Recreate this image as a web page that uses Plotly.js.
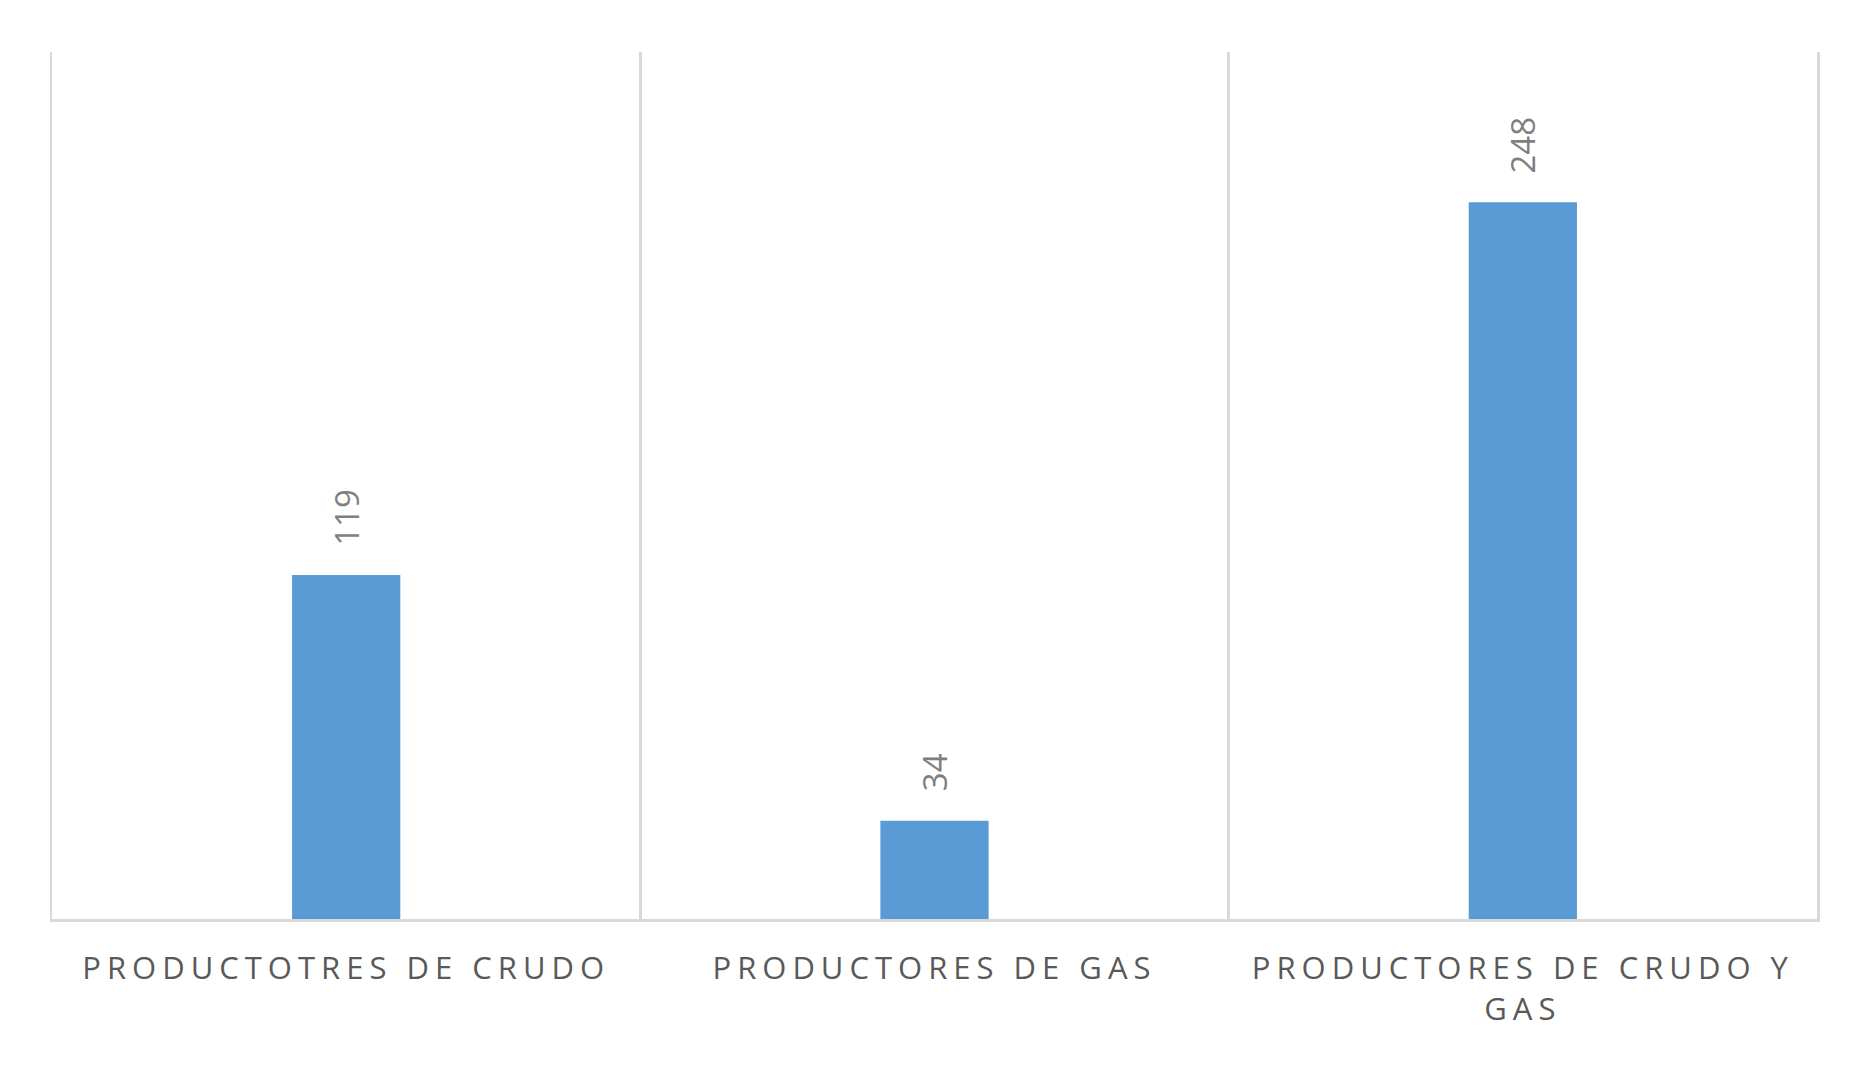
<!DOCTYPE html>
<html>
<head>
<meta charset="utf-8">
<script src="https://cdn.plot.ly/plotly-3.0.1.min.js"></script>
<style>
  html, body { margin: 0; padding: 0; background: #fff; }
  #chart { width: 1870px; height: 1067px; }
  .xtick text { letter-spacing: 6px; }
</style>
</head>
<body>
<div id="chart"></div>
<script>
const categories = ['Productotres de crudo', 'Productores de gas', 'Productores de crudo y gas'];
const tickLabels = ['PRODUCTOTRES DE CRUDO', 'PRODUCTORES DE GAS', 'PRODUCTORES DE CRUDO Y<br>GAS'];
const values = [119, 34, 248];

const barTrace = {
  type: 'bar',
  x: categories,
  y: values,
  marker: { color: '#5B9BD5' },
  hoverinfo: 'x+y',
  showlegend: false
};

// data labels above each bar, rotated like the original
const labels = categories.map(function(c, i) {
  return {
    x: c,
    y: values[i],
    text: String(values[i]),
    textangle: -90,
    showarrow: false,
    xanchor: 'center',
    yanchor: 'bottom',
    yshift: 27,
    font: { family: 'Open Sans, sans-serif', size: 33, color: '#7F7F7F' }
  };
});

const layout = {
  width: 1870,
  height: 1067,
  margin: { l: 52, r: 53, t: 52, b: 148, pad: 0 },
  paper_bgcolor: '#ffffff',
  plot_bgcolor: '#ffffff',
  bargap: 0.816,
  xaxis: {
    type: 'category',
    tickmode: 'array',
    tickvals: categories,
    ticktext: tickLabels,
    tickson: 'boundaries',
    ticks: '',
    showgrid: true,
    gridcolor: '#D9D9D9',
    gridwidth: 2.5,
    showline: true,
    linecolor: '#D9D9D9',
    linewidth: 3,
    ticklabelstandoff: 20,
    tickfont: { family: 'Open Sans, sans-serif', size: 31, color: '#595959' },
    fixedrange: true
  },
  yaxis: {
    range: [0, 300],
    showgrid: false,
    zeroline: false,
    showticklabels: false,
    ticks: '',
    showline: true,
    mirror: true,
    linecolor: '#D9D9D9',
    linewidth: 2.5,
    fixedrange: true
  },
  annotations: labels
};

Plotly.newPlot('chart', [barTrace], layout, { displayModeBar: false, staticPlot: true });
</script>
</body>
</html>
